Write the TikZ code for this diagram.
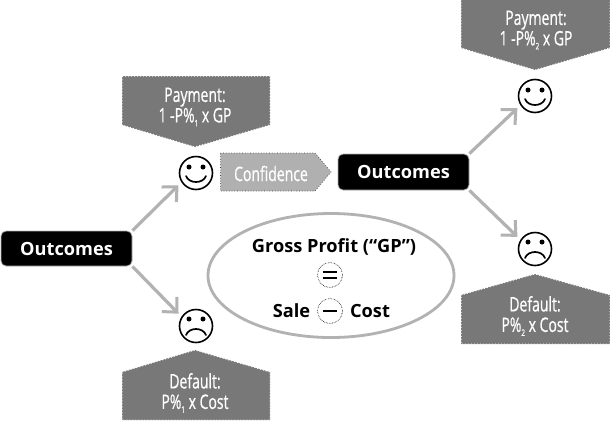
\documentclass[tikz,border=0pt]{standalone}
\usepackage{fontspec}
\setmainfont{Open Sans}
\newfontfamily\condf[FakeStretch=0.70,FakeBold=0.6]{Open Sans}
\newfontfamily\boldf{Open Sans}
\usetikzlibrary{arrows.meta,shapes.geometric,calc}
\definecolor{calloutgray}{HTML}{787878}
\definecolor{confgray}{HTML}{B0B0B0}
\definecolor{arrowgray}{HTML}{B2B2B2}
\tikzset{
  x=1pt,y=-1pt,
  face/.style={circle,draw=black,line width=1.6pt,minimum size=33pt,inner sep=0pt,outer sep=0pt},
  feature/.style={draw=black,line width=1.7pt,line cap=round},
  outbox/.style={draw=arrowgray,line width=.8pt,fill=black,rounded corners=5pt,text=white,font=\boldf\fontsize{18.2}{20}\selectfont\bfseries,inner sep=0pt,align=center},
  callout/.style={fill=calloutgray,draw=white,line width=1pt,dotted},
  callouttext/.style={text=white,font=\condf\fontsize{20}{20.5}\selectfont,align=center,inner sep=0pt},
  conf/.style={fill=confgray,draw=black!75,line width=.7pt,dotted},
  link/.style={draw=arrowgray,line width=3.2pt,shorten >=5pt,-{Straight Barb[length=11pt,width=21pt,line width=3pt]}},
  oval/.style={ellipse,draw=arrowgray,line width=2.8pt,fill=white,minimum width=246pt,minimum height=124pt,inner sep=0pt},
  gp/.style={text=black,font=\boldf\fontsize{18.2}{20}\selectfont\bfseries,inner sep=0pt},
  opcircle/.style={circle,draw=black,line width=.6pt,densely dotted,minimum size=25pt,inner sep=0pt},
}
\newcommand{\smileface}[1]{%
  \fill[black] ($(#1)+(-7,-6)$) circle (2.5);
  \fill[black] ($(#1)+(7,-6)$) circle (2.5);
  \draw[feature] ($(#1)+(-10,3)$) .. controls ($(#1)+(-7,11)$) and ($(#1)+(7,11)$) .. ($(#1)+(10,3)$);
}
\newcommand{\frownface}[1]{%
  \fill[black] ($(#1)+(-7,-7)$) circle (2.5);
  \fill[black] ($(#1)+(7,-7)$) circle (2.5);
  \draw[feature] ($(#1)+(-10,9)$) .. controls ($(#1)+(-7,1)$) and ($(#1)+(7,1)$) .. ($(#1)+(10,9)$);
}
\newcommand{\subs}[1]{\raisebox{-4pt}{\fontsize{9}{9}\selectfont #1}}
\begin{document}
\begin{tikzpicture}
\useasboundingbox[fill=white] (0,0) rectangle (610,421);
% callouts
\path[callout] (122,76) -- (270,76) -- (270,125) -- (195,147) -- (122,125) -- cycle;
\node[callouttext] (pay1) at (195,107) {Payment:\\1 -P\%\subs{1} x GP};
\path[callout] (122,372) -- (195,350) -- (270,372) -- (270,420) -- (122,420) -- cycle;
\node[callouttext] (def1) at (195,393) {Default:\\P\%\subs{1} x Cost};
\path[callout] (461,-2) -- (610,-2) -- (610,48) -- (535,70) -- (461,48) -- cycle;
\node[callouttext] (pay2) at (536,30) {Payment:\\1 -P\%\subs{2} x GP};
\path[callout] (461,295) -- (535,274) -- (610,295) -- (610,344) -- (461,344) -- cycle;
\node[callouttext] (def2) at (535,316) {Default:\\P\%\subs{2} x Cost};
\path[conf] (220.5,153) -- (315,153) -- (331,172) -- (315,191) -- (220.5,191) -- cycle;
\node[callouttext] (confid) at (271,173.5) {Confidence};
% outcomes
\node[outbox,minimum width=131pt,minimum height=35pt] (o1) at (66.5,248.5) {Outcomes};
\node[outbox,minimum width=131pt,minimum height=36pt] (o2) at (403.5,172) {Outcomes};
% faces
\node[face] (s1) at (196,173) {};
\node[face] (f1) at (196,326) {};
\node[face] (s2) at (535,96) {};
\node[face] (f2) at (535,249) {};
\smileface{s1}\frownface{f1}\smileface{s2}\frownface{f2}
% arrows
\draw[link] (o1.north east) -- (s1.212);
\draw[link] (o1.south east) -- (f1.148);
\draw[link] (o2.north east) -- (s2.212);
\draw[link] (o2.south east) -- (f2.148);
% oval
\node[oval] (oval) at (331,275.5) {};
\node[gp] (gross) at (334,247) {Gross Profit (“GP”)};
\node[opcircle] (eq) at (330,275) {};
\draw[line width=1.6pt] ($(eq)+(-7,-3)$) -- ($(eq)+(7,-3)$) ($(eq)+(-7,3)$) -- ($(eq)+(7,3)$);
\node[opcircle] (minus) at (330,311) {};
\draw[line width=1.6pt] ($(minus)+(-7,0)$) -- ($(minus)+(7,0)$);
\node[gp] (sale) at (291.5,311) {Sale};
\node[gp] (cost) at (370,311) {Cost};
\end{tikzpicture}
\end{document}
